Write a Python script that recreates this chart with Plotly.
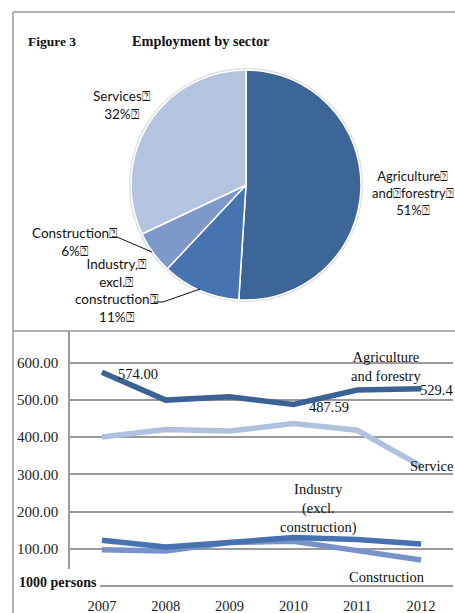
import plotly.graph_objects as go

W, H = 455, 613

# ---- data ----
sectors = ["Agriculture and forestry", "Industry, excl. construction", "Construction", "Services"]
shares = [51, 11, 6, 32]
pie_colors = ["#3d6698", "#4774b0", "#7c99c9", "#b4c3de"]

years = ["2007", "2008", "2009", "2010", "2011", "2012"]
agriculture = [574.00, 499, 508, 487.59, 526, 529.4]
services = [400, 420, 416, 436, 418, 322]
industry = [123, 105, 117, 130, 125, 113]
construction = [97, 94, 117, 120, 95, 70]
y_ticks = [100, 200, 300, 400, 500, 600]

line_colors = {"agr": "#3b6295", "srv": "#b1c1dd", "ind": "#4673af", "con": "#7793c7"}

BOX = "\u2370"


def px(x):
    return x / W


def py(y):
    return 1 - y / H


fig = go.Figure()

# pie: employment shares
pie_l, pie_r, pie_t, pie_b = 131, 361, 70, 300
fig.add_trace(go.Pie(
    labels=sectors, values=shares, sort=False, direction="clockwise", rotation=0,
    marker=dict(colors=pie_colors, line=dict(color="white", width=1.5)),
    textinfo="none", hoverinfo="label+percent", showlegend=False,
    domain=dict(x=[px(pie_l), px(pie_r)], y=[py(pie_b), py(pie_t)]),
))

# line chart: 1000 persons by sector
series = [("Services", services, "srv"), ("Construction", construction, "con"),
          ("Industry", industry, "ind"), ("Agriculture", agriculture, "agr")]
for name, vals, key in series:
    fig.add_trace(go.Scatter(
        x=years, y=vals, mode="lines", name=name, showlegend=False,
        line=dict(color=line_colors[key], width=5.5),
        xaxis="x", yaxis="y",
    ))

y0, ytop = 586, 331
scale = (586 - 362.5) / 600
ymax = (y0 - ytop) / scale

serif = "Liberation Serif"
fig.update_layout(
    width=W, height=H, margin=dict(l=0, r=0, t=0, b=0),
    paper_bgcolor="white", plot_bgcolor="white",
    xaxis=dict(domain=[px(70), px(453)], type="category", range=[-0.5, 5.5],
               showgrid=False, zeroline=False, showline=False, ticks="",
               tickfont=dict(family=serif, size=14.5, color="#222"),
               ticklabelstandoff=9, anchor="y"),
    yaxis=dict(domain=[py(y0), py(ytop)], range=[0, ymax],
               tickvals=y_ticks, ticktext=[f"{v:.2f}" for v in y_ticks],
               showgrid=True, gridcolor="#9a9a9a", gridwidth=1.5,
               zeroline=True, zerolinecolor="#9a9a9a", zerolinewidth=1.5,
               showline=True, linecolor="#9a9a9a", linewidth=1.5,
               ticks="", ticklabelstandoff=7,
               tickfont=dict(family=serif, size=15, color="#222"), anchor="x"),
)

shapes = []
# soft rim around the pie
shapes.append(dict(type="circle", xref="paper", yref="paper", layer="below",
                   x0=px(pie_l - 1), x1=px(pie_r + 1), y0=py(pie_b + 1), y1=py(pie_t - 1),
                   line=dict(color="#dedede", width=2), fillcolor="white"))
border = dict(color="#9a9a9a", width=1.5)
# pie panel frame
shapes.append(dict(type="line", xref="paper", yref="paper", x0=px(13), x1=px(13), y0=py(12), y1=py(613), line=border))
shapes.append(dict(type="line", xref="paper", yref="paper", x0=px(13), x1=px(460), y0=py(12), y1=py(12), line=border))
# line panel top edge
shapes.append(dict(type="line", xref="paper", yref="paper", x0=px(13), x1=px(460), y0=py(331), y1=py(331), line=border))
# leader lines for small slices
lead = dict(color="#111", width=1)
shapes.append(dict(type="path", xref="paper", yref="paper", line=lead,
                   path=f"M {px(112)},{py(237)} L {px(117)},{py(237)} L {px(152)},{py(252)}"))
shapes.append(dict(type="path", xref="paper", yref="paper", line=lead,
                   path=f"M {px(154)},{py(302)} L {px(163)},{py(302)} L {px(200)},{py(289)}"))
# unit label backdrop over the baseline corner
shapes.append(dict(type="rect", xref="paper", yref="paper", layer="above",
                   x0=px(14), x1=px(100), y0=py(592), y1=py(569),
                   fillcolor="white", line=dict(width=0)))
fig.update_layout(shapes=shapes)

ann = []


def note(text, x, y, size=13, family="Lato", bold=False, xanchor="center", color="#111"):
    if bold:
        text = f"<b>{text}</b>"
    ann.append(dict(text=text, x=px(x), y=py(y), xref="paper", yref="paper",
                    xanchor=xanchor, yanchor="middle", showarrow=False,
                    font=dict(family=family, size=size, color=color)))


# title
note("Figure 3", 26, 41, size=13.5, family=serif, bold=True, xanchor="left")
note("Employment by sector", 130, 41, size=14.3, family=serif, bold=True, xanchor="left")

# pie labels
pie_font = "Lato"
note(f"Services{BOX}<br>32%{BOX}", 121, 105, size=13.5, family=pie_font)
note(f"Agriculture{BOX}<br>and{BOX}forestry{BOX}<br>51%{BOX}", 413, 193, size=13, family=pie_font)
note(f"Construction{BOX}<br>6%{BOX}", 74, 242, size=13.5, family=pie_font)
note(f"Industry,{BOX}<br>excl.{BOX}<br>construction{BOX}<br>11%{BOX}", 117, 290, size=13.5, family=pie_font)

# line chart labels
note("574.00", 116, 374, size=14.5, family=serif, xanchor="left")
note("487.59", 307, 407, size=14.5, family=serif, xanchor="left")
note("529.4", 455, 390, size=14.5, family=serif, xanchor="right")
note("Agriculture<br>and forestry", 386, 366, size=14.5, family=serif)
note("Service", 455, 466, size=14.5, family=serif, xanchor="right")
note("Industry<br>(excl.<br>construction)", 318, 508, size=14.5, family=serif)
note("Construction", 387, 577, size=14.5, family=serif)
note("1000 persons", 17, 582, size=14, family=serif, bold=True, xanchor="left")

fig.update_layout(annotations=ann)

fig.write_html("out.html")
